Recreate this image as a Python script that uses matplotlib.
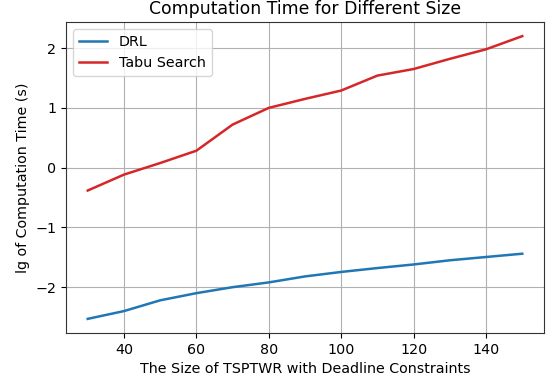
import matplotlib
matplotlib.use("Agg")
import matplotlib.pyplot as plt

sizes = [30, 40, 50, 60, 70, 80, 90, 100, 110, 120, 130, 140, 150]
drl = [-2.53, -2.40, -2.22, -2.10, -2.00, -1.92, -1.82, -1.745, -1.68, -1.62, -1.55, -1.495, -1.44]
tabu = [-0.383, -0.117, 0.077, 0.283, 0.72, 1.0, 1.15, 1.29, 1.54, 1.65, 1.82, 1.98, 2.2]

fig = plt.figure(figsize=(5.51, 3.81), dpi=100)
ax = fig.add_axes([66/551, 1-333/381, (544-66)/551, (333-22)/381])
ax.plot(sizes, drl, color="#1f77b4", lw=1.8, label="DRL")
ax.plot(sizes, tabu, color="#d62728", lw=1.8, label="Tabu Search")
ax.grid(True, color="#b0b0b0", lw=0.8)
ax.set_axisbelow(True)
for s in ax.spines.values():
    s.set_color("#333333")
ax.tick_params(labelsize=10.3)
ax.set_title("Computation Time for Different Size", fontsize=12.4)
ax.set_xlabel("The Size of TSPTWR with Deadline Constraints", fontsize=10.3)
ax.set_ylabel("lg of Computation Time (s)", fontsize=10.3)
ax.set_xticks([40, 60, 80, 100, 120, 140])
ax.set_yticks([-2, -1, 0, 1, 2])
ax.set_yticklabels(["\u22122", "\u22121", "0", "1", "2"])
ax.legend(loc="upper left", fontsize=10.3)
fig.savefig("out.png", dpi=100)
